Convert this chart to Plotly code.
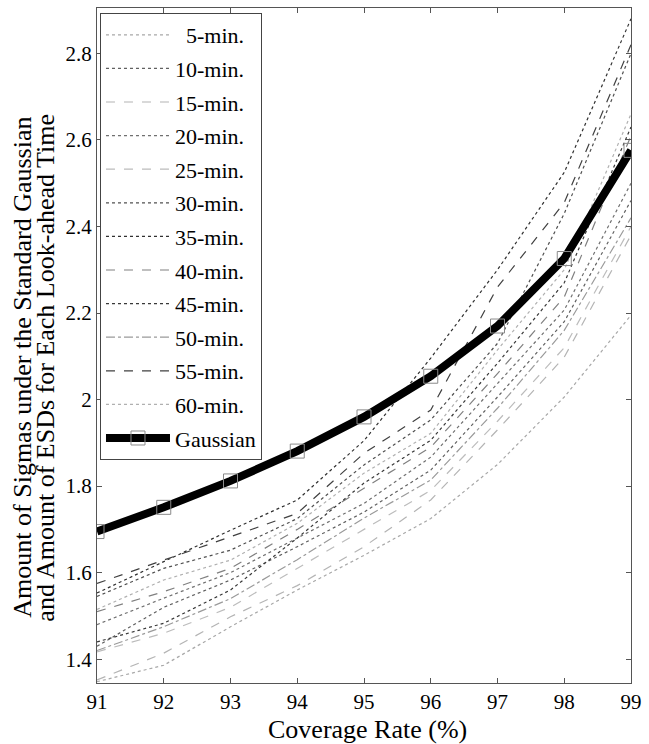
import plotly.graph_objects as go

coverage = [91, 92, 93, 94, 95, 96, 97, 98, 99]

series_names = ["5-min.", "10-min.", "15-min.", "20-min.", "25-min.", "30-min.",
                "35-min.", "40-min.", "45-min.", "50-min.", "55-min.", "60-min."]

esd_5 = [1.348, 1.386, 1.475, 1.560, 1.640, 1.725, 1.850, 2.006, 2.195]
esd_10 = [1.430, 1.520, 1.583, 1.660, 1.740, 1.837, 2.006, 2.180, 2.460]
esd_15 = [1.352, 1.414, 1.498, 1.570, 1.660, 1.768, 1.930, 2.098, 2.380]
esd_20 = [1.480, 1.541, 1.600, 1.680, 1.760, 1.867, 2.038, 2.207, 2.500]
esd_25 = [1.417, 1.460, 1.520, 1.610, 1.700, 1.790, 1.950, 2.120, 2.400]
esd_30 = [1.545, 1.610, 1.652, 1.725, 1.849, 1.953, 2.130, 2.430, 2.800]
esd_35 = [1.553, 1.625, 1.698, 1.768, 1.905, 2.096, 2.300, 2.525, 2.880]
esd_40 = [1.510, 1.556, 1.610, 1.700, 1.795, 1.890, 2.060, 2.237, 2.610]
esd_45 = [1.440, 1.483, 1.560, 1.680, 1.807, 1.906, 2.084, 2.270, 2.630]
esd_50 = [1.420, 1.475, 1.540, 1.630, 1.726, 1.814, 1.980, 2.160, 2.420]
esd_55 = [1.575, 1.629, 1.683, 1.737, 1.876, 1.976, 2.260, 2.455, 2.820]
esd_60 = [1.515, 1.583, 1.629, 1.714, 1.830, 1.922, 2.115, 2.300, 2.660]

gaussian = [1.695, 1.751, 1.812, 1.881, 1.960, 2.054, 2.170, 2.326, 2.576]

y_tick_vals = [1.4, 1.6, 1.8, 2.0, 2.2, 2.4, 2.6, 2.8]
y_tick_text = ["1.4", "1.6", "1.8", "2", "2.2", "2.4", "2.6", "2.8"]

all_series = [esd_5, esd_10, esd_15, esd_20, esd_25, esd_30,
              esd_35, esd_40, esd_45, esd_50, esd_55, esd_60]

styles = [
    ("#a8a8a8", "dot"), ("#606060", "dot"), ("#b4b4b4", "dash"),
    ("#707070", "dot"), ("#bcbcbc", "dash"), ("#505050", "dot"),
    ("#303030", "dot"), ("#808080", "dash"), ("#383838", "dot"),
    ("#9a9a9a", "dashdot"), ("#404040", "dash"), ("#b0b0b0", "dot"),
]

FIG_SP = "\u2007"
SERIF = "Liberation Serif"

fig = go.Figure()
for i, (name, vals) in enumerate(zip(series_names, all_series)):
    col, dash = styles[i]
    disp = name if len(name) >= 7 else FIG_SP + name
    fig.add_trace(go.Scatter(
        x=coverage, y=vals, mode="lines", name=disp,
        legendgroup="g%d" % i,
        line=dict(color=col, width=1.2, dash=dash),
    ))

fig.add_trace(go.Scatter(
    x=coverage, y=gaussian, mode="lines+markers", name="Gaussian",
    legendgroup="gauss",
    line=dict(color="black", width=8),
    marker=dict(symbol="square-open", size=14, color="#8a8a8a",
                line=dict(width=1, color="#8a8a8a")),
))

fig.update_layout(
    width=649, height=744,
    margin=dict(l=97, r=16, t=7, b=61),
    paper_bgcolor="white", plot_bgcolor="white",
    font=dict(family=SERIF, size=21, color="black"),
    showlegend=True,
    legend=dict(
        x=0.0056, y=0.9926, xanchor="left", yanchor="top",
        bgcolor="white", bordercolor="#444", borderwidth=1,
        font=dict(family=SERIF, size=22, color="black"),
        tracegroupgap=2, itemwidth=64,
    ),
    xaxis=dict(
        range=[91, 99], tickvals=coverage, ticks="inside", ticklen=5,
        tickcolor="#555", showline=True, linecolor="#555", linewidth=1,
        mirror="ticks", showgrid=False, zeroline=False,
        tickfont=dict(family=SERIF, size=21, color="black"),
    ),
    yaxis=dict(
        range=[1.345, 2.905], tickvals=y_tick_vals, ticktext=y_tick_text,
        ticks="inside", ticklen=5, tickcolor="#555", showline=True,
        linecolor="#555", linewidth=1, mirror="ticks", showgrid=False,
        zeroline=False, tickfont=dict(family=SERIF, size=21, color="black"),
    ),
    annotations=[
        dict(text="Amount of Sigmas under the Standard Gaussian",
             xref="paper", yref="paper", x=-0.140, y=0.4675,
             textangle=-90, showarrow=False, xanchor="center", yanchor="middle",
             font=dict(family=SERIF, size=26, color="black")),
        dict(text="and Amount of ESDs for Each Look-ahead Time",
             xref="paper", yref="paper", x=-0.097, y=0.4675,
             textangle=-90, showarrow=False, xanchor="center", yanchor="middle",
             font=dict(family=SERIF, size=26, color="black")),
        dict(text="Coverage Rate (%)",
             xref="paper", yref="paper", x=0.506, y=-0.069,
             showarrow=False, xanchor="center", yanchor="middle",
             font=dict(family=SERIF, size=26, color="black")),
    ],
)

fig.write_html("out.html", config={"displayModeBar": False},
               post_script="document.body.style.margin='0';")
